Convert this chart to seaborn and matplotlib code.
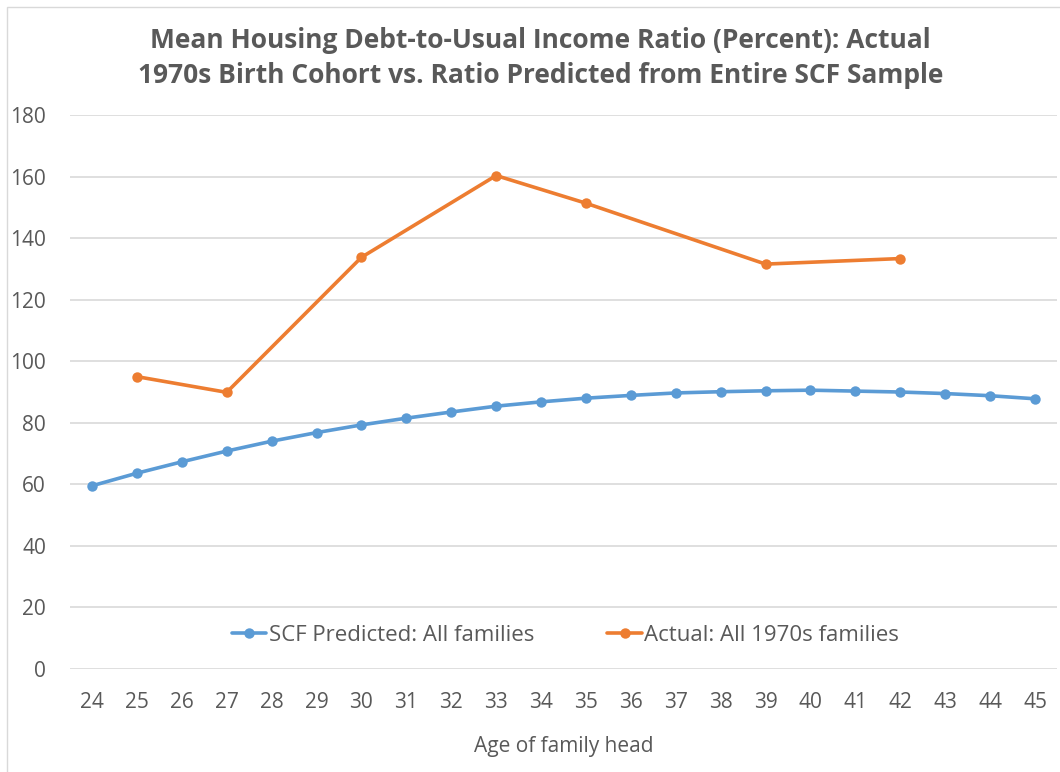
import matplotlib
matplotlib.use("Agg")
import matplotlib.pyplot as plt
import pandas as pd
import seaborn as sns

# ---------------------------------------------------------------------------
# Data
# ---------------------------------------------------------------------------
ages = [24, 25, 26, 27, 28, 29, 30, 31, 32, 33, 34,
        35, 36, 37, 38, 39, 40, 41, 42, 43, 44, 45]
predicted = [59.5, 63.6, 67.3, 70.8, 74.0, 76.8, 79.3, 81.5, 83.5, 85.4, 86.8,
             88.0, 88.9, 89.7, 90.1, 90.4, 90.6, 90.3, 90.0, 89.5, 88.8, 87.8]

actual_ages = [25, 27, 30, 33, 35, 39, 42]
actual = [95.0, 89.9, 133.8, 160.4, 151.4, 131.6, 133.4]

y_ticks = [0, 20, 40, 60, 80, 100, 120, 140, 160, 180]

PRED_LABEL = "SCF Predicted: All families"
ACT_LABEL = "Actual: All 1970s families"
TITLE = ("Mean Housing Debt-to-Usual Income Ratio (Percent): Actual\n"
         "1970s Birth Cohort vs. Ratio Predicted from Entire SCF Sample")

BLUE = "#5B9BD5"
ORANGE = "#ED7D31"
TEXT = "#595959"
GRID = "#D9D9D9"

df = pd.concat([
    pd.DataFrame({"age": ages, "value": predicted, "series": PRED_LABEL}),
    pd.DataFrame({"age": actual_ages, "value": actual, "series": ACT_LABEL}),
], ignore_index=True)

sns.set_theme(style="white")
plt.rcParams["font.family"] = ["Open Sans", "DejaVu Sans"]

fig = plt.figure(figsize=(10.6, 7.72), dpi=100)
ax = fig.add_axes([0.0656, 0.1337, 0.9320, 0.7170])

sns.lineplot(
    data=df, x="age", y="value", hue="series",
    palette={PRED_LABEL: BLUE, ACT_LABEL: ORANGE},
    marker="o", markersize=7.5, markeredgewidth=0, linewidth=2.6,
    ax=ax,
)

ax.set_xlim(23.5, 45.5)
ax.set_ylim(0, 180)
ax.set_xticks(ages)
ax.set_yticks(y_ticks)
ax.yaxis.grid(True, color=GRID, linewidth=1.2)
ax.set_axisbelow(True)
for side in ["top", "right", "left", "bottom"]:
    ax.spines[side].set_visible(False)
ax.tick_params(axis="both", length=0, labelsize=15, colors=TEXT)
ax.tick_params(axis="x", pad=17)
ax.tick_params(axis="y", pad=17)

ax.set_xlabel("Age of family head", fontsize=15, color=TEXT, labelpad=16)
ax.set_ylabel("")

leg = ax.legend(
    loc="center", bbox_to_anchor=(0.502, 0.061), ncol=2, frameon=False,
    fontsize=16, handlelength=1.55, handletextpad=0.1, columnspacing=3.3,
)
for txt in leg.get_texts():
    txt.set_color(TEXT)

fig.text(0.51, 0.925, TITLE, ha="center", va="center", fontsize=19,
         fontweight="bold", color=TEXT, linespacing=1.4)

# light chart-area border, like the Excel export
fig.add_artist(plt.Rectangle((7 / 1060, -0.1), 1.2, 1 - 7 / 772 + 0.1,
                             transform=fig.transFigure, fill=False,
                             edgecolor="#D9D9D9", linewidth=1))

fig.savefig("out.png", dpi=100)
plt.close(fig)
